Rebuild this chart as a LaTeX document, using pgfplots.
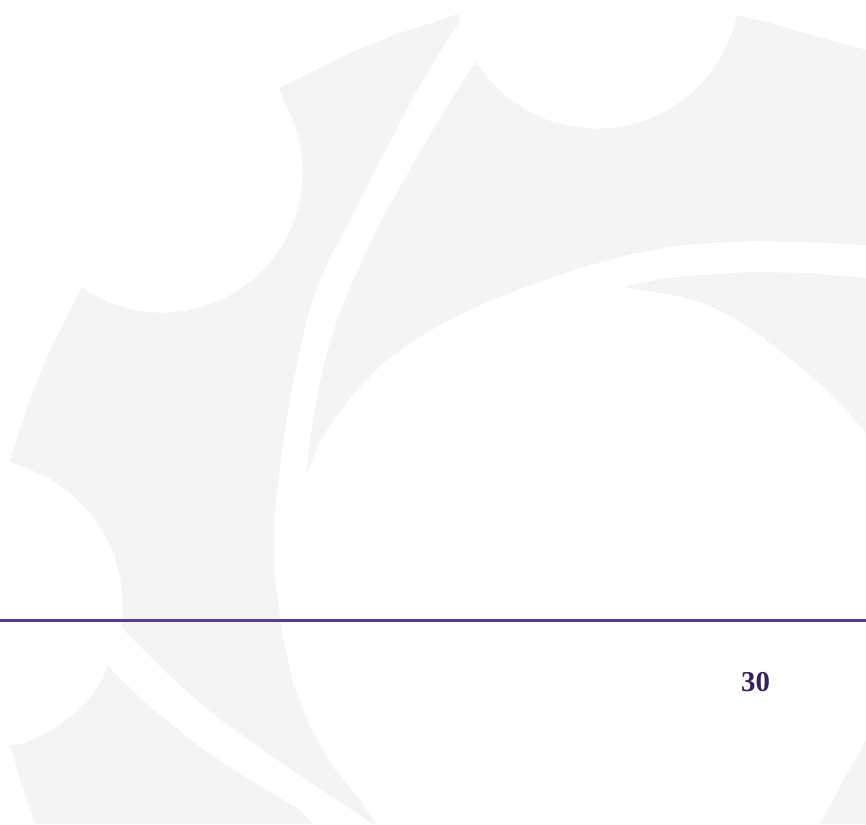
\documentclass[border=0pt]{standalone}
\usepackage{pgfplots}
\pgfplotsset{compat=1.18}
\usepackage{fontspec}
\newfontfamily\numfont{Liberation Serif}
\definecolor{gearfill}{HTML}{F4F4F4}
\definecolor{rule}{HTML}{5B3A94}
\definecolor{pagenum}{HTML}{35205C}
\begin{document}
\begin{tikzpicture}
\begin{axis}[
  width=8.66cm, height=8.24cm, scale only axis,
  xmin=0, xmax=866, ymin=0, ymax=824,
  y dir=reverse, hide axis, clip=true,
]
% background
\addplot[draw=none, fill=white] coordinates {(0,0) (866,0) (866,824) (0,824)} --cycle;
% piece A (left large)
\addplot[draw=none, fill=gearfill] coordinates {
 (458,14) (460,21) (438,55) (417,90) (397,128) (377,167) (360,200) (343,233)
 (329,260) (317,287) (307,318) (300,350) (293,383) (287,417) (282,450) (278,483)
 (275,510) (274,533) (274,560) (275,583) (278,600) (282,633) (293,683) (310,727)
 (333,767) (360,800) (376,824)
 (373,824) (345,805) (317,787) (292,770) (267,753) (242,735) (217,717) (192,696)
 (167,673) (144,650) (121,627)
 (121.3,627) (123,605) (120.8,579.6) (114.2,555.1) (103.4,532) (88.8,511.2)
 (70.8,493.2) (50,478.6) (26.9,467.8) (10,462)
 (20.5,427.8) (30.5,397.7) (42.2,368.2) (55.3,339.3) (70,311.2) (82,287)
 (91.5,294.1) (113.8,304.5) (137.5,310.9) (162,313) (186.5,310.9) (210.2,304.5)
 (232.5,294.1) (252.6,280) (270,262.6) (284.1,242.5) (294.5,220.2) (300.9,196.5)
 (303,172) (300.9,147.5) (294.5,123.8) (284.1,101.5) (279,88)
 (315.5,70) (353.5,51.4) (392.7,35.5) (433,22.5) (458,14)
} --cycle;
% piece B (top)
\addplot[draw=none, fill=gearfill] coordinates {
 (476,62) (460,86) (445,110) (431,133) (417,157) (400,187) (383,217) (366,252)
 (350,287) (337,320) (327,353) (319,387) (313,420) (309,447) (307,473)
 (318,445) (333,420) (355,392) (383,363) (410,343) (443,323) (480,305) (517,290)
 (550,278) (583,267) (620,257) (667,247) (710,243) (750,241) (810,242) (866,245)
 (866,50) (845,44) (807,34) (767,22) (737,15)
 (731.4,34.9) (720.8,57.5) (706.5,77.9) (688.9,95.5) (668.5,109.8) (645.9,120.4)
 (621.8,126.8) (597,129) (572.2,126.8) (548.1,120.4) (525.5,109.8) (505.1,95.5)
 (487.5,77.9) (476,62)
} --cycle;
% piece C (inner swoosh right)
\addplot[draw=none, fill=gearfill] coordinates {
 (622,287) (650,281) (667,278) (700,275) (750,272) (810,273) (866,278)
 (866,433) (847,411) (827,390) (805,371) (783,353) (758,334) (733,317) (708,305)
 (683,297) (650,291) (622,287)
} --cycle;
% piece D (lower left)
\addplot[draw=none, fill=gearfill] coordinates {
 (107,665) (128,686) (150,707) (175,727) (200,747) (225,764) (250,780) (275,795)
 (300,810) (313,824)
 (35,824) (21,782) (10,745)
 (19.7,744.6) (26.9,742.2) (50,731.4) (70.8,716.8) (88.8,698.8) (103.4,678) (107,665)
} --cycle;
% piece E (bottom right corner)
\addplot[draw=none, fill=gearfill] coordinates {
 (866,740) (855,760) (843,780) (832,802) (820,824) (866,824)
} --cycle;
% rule
\addplot[rule, line width=0.75pt] coordinates {(0,620.7) (866,620.7)};
\node[anchor=base, inner sep=0pt, text=pagenum, font=\numfont\bfseries\fontsize{8.2}{9}\selectfont]
  at (axis cs:755.5,691) {30};
\end{axis}
\end{tikzpicture}
\end{document}
